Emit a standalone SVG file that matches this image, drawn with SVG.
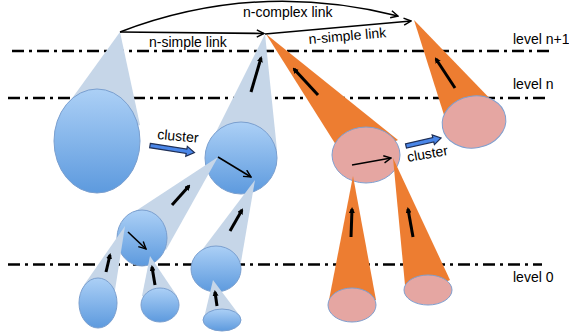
<svg xmlns="http://www.w3.org/2000/svg" width="569" height="336" viewBox="0 0 569 336">
<defs>
<style>
.lvl{stroke:#000;stroke-width:2.5;stroke-dasharray:12 5 3 5;fill:none}
.bc{fill:#c6d6e8}
.be{fill:url(#bg);stroke:#7a9fcf;stroke-width:1}
.oc{fill:#ed7d31}
.pe{fill:#e5a6a2;stroke:#7f9fcf;stroke-width:1}
.thick{stroke:#000;stroke-width:3;fill:none;marker-end:url(#hs)}
.thin{stroke:#000;stroke-width:1.6;fill:none;marker-end:url(#ho)}
.lnk{stroke:#000;stroke-width:1.6;fill:none;marker-end:url(#ho)}
.blk{fill:#4a86e8;stroke:#1f2f55;stroke-width:1.2}
text{font-family:"Liberation Sans",Arial,sans-serif;font-size:14px;fill:#000}
</style>
<linearGradient id="bg" x1="0" y1="0" x2="0" y2="1">
<stop offset="0" stop-color="#acd0f6"/>
<stop offset="1" stop-color="#5d9ade"/>
</linearGradient>
<marker id="hs" viewBox="0 0 6 6" refX="4" refY="3" markerWidth="6" markerHeight="6" markerUnits="userSpaceOnUse" orient="auto">
<path d="M0,0 L6,3 L0,6 z" fill="#000"/>
</marker>
<marker id="ho" viewBox="0 0 10 10" refX="9" refY="5" markerWidth="9" markerHeight="9" markerUnits="userSpaceOnUse" orient="auto">
<path d="M1,1 L9,5 L1,9" fill="none" stroke="#000" stroke-width="1.6"/>
</marker>
</defs>

<g id="levels">
<line class="lvl" x1="12" y1="51" x2="553" y2="51"/>
<line class="lvl" x1="8" y1="98" x2="547" y2="98"/>
<line class="lvl" x1="8" y1="264.5" x2="542" y2="264.5"/>
</g>

<g id="node-blue-big">
<polygon class="bc" points="120,32 60,115 97,141 140,125"/>
<ellipse class="be" cx="97" cy="141" rx="43" ry="52"/>
</g>
<g id="node-blue-top">
<polygon class="bc" points="265,34 207,150 241,158 277,150"/>
<ellipse class="be" cx="241" cy="158" rx="36" ry="36"/>
</g>
<g id="node-blue-mid-left">
<polygon class="bc" points="218,157 125,218 142,238 166,250"/>
<ellipse class="be" cx="142" cy="238" rx="25" ry="28"/>
</g>
<g id="node-blue-mid-right">
<polygon class="bc" points="255,180 196,258 216,269 241,262"/>
<ellipse class="be" cx="216" cy="269" rx="25" ry="23"/>
</g>
<g id="node-blue-leaf1">
<polygon class="bc" points="125,226 84,285 98,303 115,290"/>
<ellipse class="be" cx="98" cy="303" rx="19" ry="25"/>
</g>
<g id="node-blue-leaf2">
<polygon class="bc" points="150,256 142,296 160,305 177,296"/>
<ellipse class="be" cx="160" cy="305" rx="19" ry="17"/>
</g>
<g id="node-blue-leaf3">
<polygon class="bc" points="213,280 204,318 222,320 240,316"/>
<ellipse class="be" cx="222" cy="320" rx="19" ry="11"/>
</g>

<g id="node-pink-mid">
<polygon class="oc" points="266,34 336,145 366,155 398,140"/>
<ellipse class="pe" cx="366" cy="155" rx="34" ry="28"/>
</g>
<g id="node-pink-leaf1">
<polygon class="oc" points="353,176 329,300 352,305 376,300"/>
<ellipse class="pe" cx="352" cy="305" rx="24" ry="17"/>
</g>
<g id="node-pink-leaf2">
<polygon class="oc" points="393,158 405,285 428,290 450,280"/>
<ellipse class="pe" cx="428" cy="290" rx="24" ry="15"/>
</g>
<g id="node-pink-top">
<polygon class="oc" points="414,20 444,115 474,122 499,108"/>
<ellipse class="pe" cx="474" cy="122" rx="32" ry="26" transform="rotate(-10 474 122)"/>
</g>

<g id="connectors">
<path class="lnk" d="M120,32 Q255,-20 398,16"/>
<path class="lnk" d="M120,32 L264,33.5"/>
<path class="lnk" d="M265,34 L411,21"/>
<line class="thick" x1="251" y1="92" x2="261" y2="58"/>
<line class="thick" x1="172" y1="205" x2="189" y2="186"/>
<line class="thick" x1="230" y1="231" x2="242" y2="210"/>
<line class="thick" x1="106" y1="272" x2="110" y2="255"/>
<line class="thick" x1="155" y1="285" x2="152" y2="267"/>
<line class="thick" x1="217" y1="306" x2="215" y2="292"/>
<line class="thick" x1="318" y1="95" x2="294" y2="69"/>
<line class="thick" x1="455" y1="88" x2="436" y2="59"/>
<line class="thick" x1="351" y1="237" x2="352" y2="209"/>
<line class="thick" x1="413" y1="237" x2="408" y2="209"/>
<line class="thin" x1="218" y1="157" x2="251" y2="177"/>
<line class="thin" x1="128" y1="232" x2="146" y2="249"/>
<line class="thin" x1="352" y1="165" x2="391" y2="158"/>
<path class="blk" d="M0,-2.2 L37,-2.2 L37,-5 L45,0 L37,5 L37,2.2 L0,2.2 z" transform="translate(150,145.5) rotate(9)"/>
<path class="blk" d="M0,-2.2 L28,-2.2 L28,-5 L36,0 L28,5 L28,2.2 L0,2.2 z" transform="translate(406,146) rotate(-13)"/>
</g>

<g id="labels">
<text x="243" y="17">n-complex link</text>
<text x="149" y="47">n-simple link</text>
<text x="309" y="44" transform="rotate(-5 309 44)">n-simple link</text>
<text x="157" y="139" transform="rotate(5 157 139)">cluster</text>
<text x="408" y="162" transform="rotate(-10 408 162)">cluster</text>
<text x="513" y="44">level n+1</text>
<text x="513" y="89">level n</text>
<text x="513" y="282">level 0</text>
</g>
</svg>
